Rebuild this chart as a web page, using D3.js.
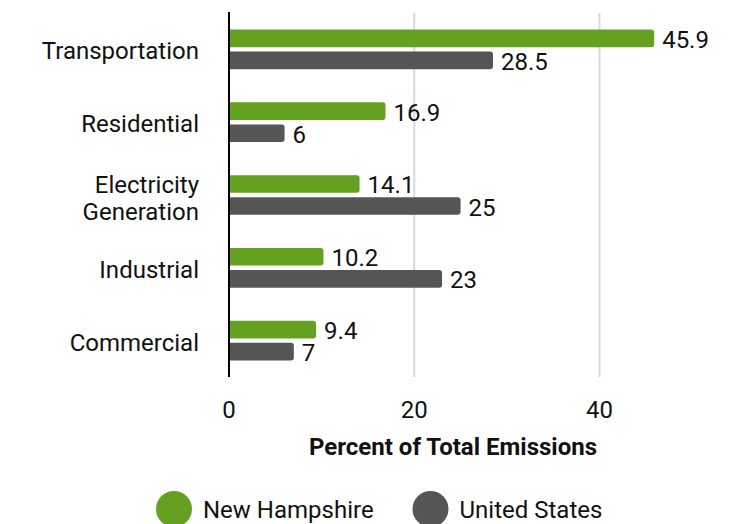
<!DOCTYPE html>
<html>
<head>
<meta charset="utf-8">
<script src="https://cdn.jsdelivr.net/npm/d3@7"></script>
<style>
  html, body { margin: 0; padding: 0; background: #fff; }
  svg { display: block; font-family: Roboto, "Noto Sans", sans-serif; }
</style>
</head>
<body>
<svg id="chart" width="729" height="524"></svg>
<script>
// Share of greenhouse gas emissions by sector, NH vs US
const categories = ["Transportation", "Residential", "Electricity\nGeneration", "Industrial", "Commercial"];
const seriesNames = ["New Hampshire", "United States"];
const newHampshire = [45.9, 16.9, 14.1, 10.2, 9.4];
const unitedStates = [28.5, 6, 25, 23, 7];
const tickValues = [0, 20, 40];
const axisTitle = "Percent of Total Emissions";
const colors = ["#65a121", "#555555"];

const svg = d3.select("#chart");

const x = d3.scaleLinear().domain([0, 40]).range([229, 599.5]);
const y = d3.scaleBand().domain(categories).range([13, 377]).padding(0);
const groupH = 39.7;
const ySub = d3.scaleBand().domain(seriesNames).range([0, groupH]).paddingInner(0.2).paddingOuter(0);

// Gridlines
svg.append("g")
  .selectAll("line")
  .data(tickValues.filter(d => d !== 0))
  .join("line")
  .attr("x1", d => x(d)).attr("x2", d => x(d))
  .attr("y1", 13).attr("y2", 377)
  .attr("stroke", "#d9d9d9").attr("stroke-width", 2);

// Bars with rounded right end
const r = 3;
function barPath(x0, x1, y0, h) {
  const rr = Math.min(r, (x1 - x0) / 2, h / 2);
  return `M${x0},${y0}H${x1 - rr}Q${x1},${y0} ${x1},${y0 + rr}V${y0 + h - rr}Q${x1},${y0 + h} ${x1 - rr},${y0 + h}H${x0}Z`;
}

const rows = categories.map((c, i) => ({
  cat: c,
  vals: [
    { s: seriesNames[0], v: newHampshire[i], c: colors[0] },
    { s: seriesNames[1], v: unitedStates[i], c: colors[1] }
  ]
}));

const groups = svg.append("g").selectAll("g")
  .data(rows)
  .join("g")
  .attr("transform", d => `translate(0,${y(d.cat) + y.bandwidth() / 2 - groupH / 2})`);

groups.selectAll("path")
  .data(d => d.vals)
  .join("path")
  .attr("d", d => barPath(x(0), x(d.v), ySub(d.s), ySub.bandwidth()))
  .attr("fill", d => d.c);

groups.selectAll("text")
  .data(d => d.vals)
  .join("text")
  .attr("x", d => x(d.v) + 8)
  .attr("y", d => ySub(d.s) + ySub.bandwidth() / 2 + 9.5)
  .attr("font-size", 24)
  .attr("fill", "#111")
  .text(d => d.v);

// Zero axis line
svg.append("line")
  .attr("x1", x(0)).attr("x2", x(0))
  .attr("y1", 12).attr("y2", 377)
  .attr("stroke", "#000").attr("stroke-width", 2);

// Category labels
const catLabels = svg.append("g").selectAll("text")
  .data(categories)
  .join("text")
  .attr("text-anchor", "end")
  .attr("font-size", 24)
  .attr("fill", "#111");
catLabels.each(function(d) {
  const lines = d.split("\n");
  const n = lines.length;
  const cy = y(d) + y.bandwidth() / 2;
  d3.select(this).selectAll("tspan")
    .data(lines)
    .join("tspan")
    .attr("x", 199)
    .attr("y", (l, i) => n > 1 ? cy - 2.3 + i * 27.3 : cy + 10)
    .text(l => l);
});

// X tick labels
svg.append("g").selectAll("text")
  .data(tickValues)
  .join("text")
  .attr("x", d => x(d))
  .attr("y", 417.5)
  .attr("text-anchor", "middle")
  .attr("font-size", 24)
  .attr("fill", "#111")
  .text(d => d);

// Axis title
svg.append("text")
  .attr("x", 453)
  .attr("y", 455)
  .attr("text-anchor", "middle")
  .attr("font-size", 24)
  .attr("font-weight", "bold")
  .attr("fill", "#111")
  .text(axisTitle);

// Legend
const legendX = [174, 430.5];
const legend = svg.append("g").selectAll("g")
  .data(seriesNames)
  .join("g")
  .attr("transform", (d, i) => `translate(${legendX[i]},509)`);
legend.append("circle").attr("r", 18).attr("fill", (d, i) => colors[i]);
legend.append("text")
  .attr("x", 29)
  .attr("y", 9)
  .attr("font-size", 24)
  .attr("fill", "#111")
  .text(d => d);
</script>
</body>
</html>
